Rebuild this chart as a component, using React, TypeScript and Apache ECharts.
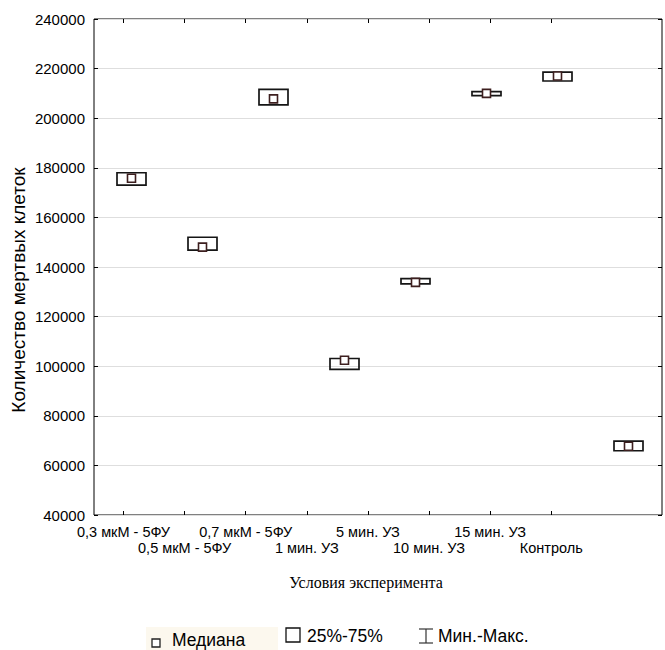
import React, { useEffect, useRef } from "react";
import * as echarts from "echarts";

const categories = [
  "0,3 мкМ - 5ФУ",
  "0,5 мкМ - 5ФУ",
  "0,7 мкМ - 5ФУ",
  "1 мин. УЗ",
  "5 мин. УЗ",
  "10 мин. УЗ",
  "15 мин. УЗ",
  "Контроль",
];
const q1 = [173000, 146800, 205400, 98700, 133200, 209100, 215000, 65900];
const q3 = [178000, 152000, 211600, 103100, 135300, 210700, 218600, 69800];
const median = [175800, 148000, 207800, 102400, 133800, 210000, 217000, 67700];
const tickIdx = [0, 1, 2, 3, 4, 5, 6, 7];
const upperRowIdx = [0, 2, 4, 6];
const lowerRowIdx = [1, 3, 5, 7];

const yTitle = "Количество мертвых клеток";
const xTitle = "Условия эксперимента";
const legendNames = ["Медиана", "25%-75%", "Мин.-Макс."];

const FONT = "'Liberation Sans', Arial, sans-serif";

export default function App() {
  const ref = useRef<HTMLDivElement>(null);
  useEffect(() => {
    if (!ref.current) return;
    const chart = echarts.init(ref.current, null, { renderer: "svg" });
    const tickAxisBase = {
      type: "value",
      gridIndex: 0,
      min: -0.483,
      max: 8.813,
      splitLine: { show: false },
      axisLine: { show: false, onZero: false },
    };
    const labelBase = {
      show: true,
      showMinLabel: true,
      showMaxLabel: true,
      hideOverlap: false,
      fontSize: 14.5,
      color: "#000",
      fontFamily: FONT,
      formatter: (v: number) => categories[Math.round(v)] ?? "",
    };
    chart.setOption({
      animation: false,
      backgroundColor: "#fff",
      grid: {
        left: 94,
        top: 19,
        right: 3,
        bottom: 135,
        show: true,
        borderColor: "#000",
        borderWidth: 1,
        backgroundColor: "transparent",
      },
      xAxis: [
        {
          ...tickAxisBase,
          position: "bottom",
          axisTick: { show: true, inside: true, length: 4, customValues: tickIdx, lineStyle: { color: "#000" } },
          axisLabel: { ...labelBase, customValues: upperRowIdx, margin: 9 },
        },
        {
          ...tickAxisBase,
          position: "bottom",
          axisTick: { show: false },
          axisLabel: { ...labelBase, customValues: lowerRowIdx, margin: 25 },
        },
        {
          ...tickAxisBase,
          position: "top",
          axisTick: { show: true, inside: true, length: 4, customValues: tickIdx, lineStyle: { color: "#000" } },
          axisLabel: { show: false },
        },
        {
          type: "category",
          gridIndex: 0,
          position: "bottom",
          data: categories,
          boundaryGap: true,
          show: false,
          axisLine: { onZero: false },
        },
      ],
      yAxis: [
        {
          type: "value",
          min: 40000,
          max: 240000,
          interval: 20000,
          position: "left",
          axisLine: { show: false, onZero: false },
          axisTick: { show: true, inside: true, length: 4, lineStyle: { color: "#000" } },
          splitLine: { show: true, lineStyle: { color: "#dedede", width: 1 } },
          axisLabel: {
            margin: 9,
            fontSize: 15,
            color: "#000",
            fontFamily: FONT,
            formatter: (v: number) => String(v),
          },
        },
        {
          type: "value",
          min: 40000,
          max: 240000,
          interval: 20000,
          position: "right",
          axisLine: { show: false, onZero: false },
          axisTick: { show: true, inside: true, length: 4, lineStyle: { color: "#000" } },
          splitLine: { show: false },
          axisLabel: { show: false },
        },
      ],
      series: [
        {
          type: "custom",
          name: legendNames[1],
          xAxisIndex: 3,
          yAxisIndex: 0,
          encode: { x: 0, y: [1, 2] },
          data: categories.map((_, i) => [i, q1[i], q3[i]]),
          renderItem: (params: any, api: any) => {
            const x = api.value(0);
            const lo = api.coord([x, api.value(1)]);
            const hi = api.coord([x, api.value(2)]);
            const w = 29;
            return {
              type: "rect",
              shape: { x: lo[0] - w / 2 + 2, y: hi[1], width: w, height: lo[1] - hi[1] },
              style: { fill: "none", stroke: "#151515", lineWidth: 1.7 },
            };
          },
          z: 2,
        },
        {
          type: "scatter",
          name: legendNames[0],
          xAxisIndex: 3,
          yAxisIndex: 0,
          data: categories.map((_, i) => [i, median[i]]),
          symbol: "rect",
          symbolSize: 8,
          symbolOffset: [2, 0],
          itemStyle: { color: "#fff", borderColor: "#3d1f1f", borderWidth: 1.6, opacity: 1 },
          z: 3,
        },
      ],
      graphic: [
        {
          type: "text",
          x: 18,
          y: 290,
          rotation: Math.PI / 2,
          style: {
            text: yTitle,
            fontSize: 19,
            fontFamily: FONT,
            fill: "#000",
            align: "center",
            verticalAlign: "middle",
          },
        },
        {
          type: "text",
          x: 366,
          y: 582,
          style: {
            text: xTitle,
            fontSize: 16,
            fontFamily: "'Liberation Serif', 'Times New Roman', serif",
            fill: "#000",
            align: "center",
            verticalAlign: "middle",
          },
        },
        { type: "rect", shape: { x: 146, y: 627, width: 132, height: 23 }, style: { fill: "#fcf8ee" }, z: 0 },
        { type: "rect", shape: { x: 152, y: 639, width: 8, height: 8 }, style: { fill: "#fff", stroke: "#222", lineWidth: 1.3 } },
        {
          type: "text",
          x: 172,
          y: 640,
          style: { text: legendNames[0], fontSize: 17.5, fontFamily: FONT, fill: "#000", verticalAlign: "middle" },
        },
        { type: "rect", shape: { x: 286, y: 628, width: 14, height: 14 }, style: { fill: "none", stroke: "#111", lineWidth: 1.3 } },
        {
          type: "text",
          x: 307,
          y: 636,
          style: { text: legendNames[1], fontSize: 17.5, fontFamily: FONT, fill: "#000", verticalAlign: "middle" },
        },
        { type: "line", shape: { x1: 426, y1: 629, x2: 426, y2: 643 }, style: { stroke: "#333", lineWidth: 1.2 } },
        { type: "line", shape: { x1: 419, y1: 629, x2: 433, y2: 629 }, style: { stroke: "#333", lineWidth: 1.2 } },
        { type: "line", shape: { x1: 419, y1: 643, x2: 433, y2: 643 }, style: { stroke: "#333", lineWidth: 1.2 } },
        {
          type: "text",
          x: 438,
          y: 636,
          style: { text: legendNames[2], fontSize: 17.5, fontFamily: FONT, fill: "#000", verticalAlign: "middle" },
        },
      ],
    });
    return () => chart.dispose();
  }, []);
  return (
    <div
      ref={ref}
      style={{ position: "fixed", left: 0, top: 0, width: 665, height: 650 }}
    />
  );
}
